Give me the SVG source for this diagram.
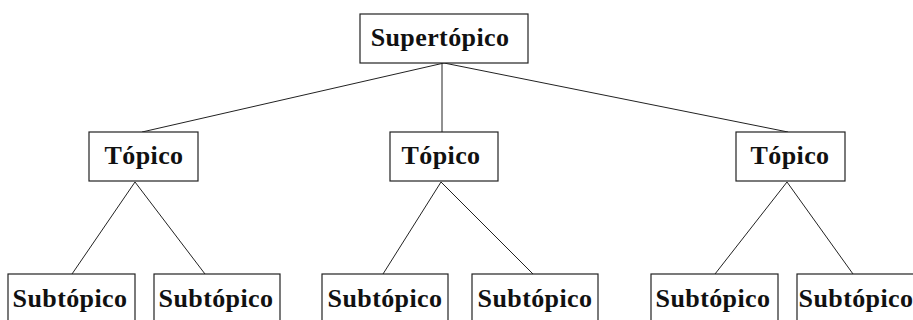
<svg xmlns="http://www.w3.org/2000/svg" width="913" height="320" viewBox="0 0 913 320">
<style>
.box{fill:#fff;stroke:#222;stroke-width:1.2}
.lbl{font-family:"Liberation Serif","Times New Roman",serif;font-weight:bold;font-size:26px;letter-spacing:0.4px;fill:#111;text-anchor:middle}
.edge{stroke:#222;stroke-width:1;fill:none}
</style>
<rect width="913" height="320" fill="#fff"/>
<g id="connectors">
<line class="edge" x1="444" y1="63" x2="142" y2="132"/>
<line class="edge" x1="442" y1="63" x2="442" y2="132"/>
<line class="edge" x1="444" y1="63" x2="788" y2="132"/>
<line class="edge" x1="135" y1="182" x2="72" y2="274"/>
<line class="edge" x1="135" y1="182" x2="205" y2="274"/>
<line class="edge" x1="441" y1="182" x2="383" y2="274"/>
<line class="edge" x1="441" y1="182" x2="533" y2="274"/>
<line class="edge" x1="787" y1="182" x2="715" y2="274"/>
<line class="edge" x1="787" y1="182" x2="853" y2="274"/>
</g>
<g id="supertopico">
<rect class="box" x="360" y="14" width="168" height="49"/>
<text class="lbl" x="440" y="46">Supertópico</text>
</g>
<g id="topico1">
<rect class="box" x="89" y="132" width="109" height="49"/>
<text class="lbl" x="144" y="164">Tópico</text>
</g>
<g id="topico2">
<rect class="box" x="390" y="132" width="108" height="49"/>
<text class="lbl" x="441" y="164">Tópico</text>
</g>
<g id="topico3">
<rect class="box" x="736" y="132" width="109" height="49"/>
<text class="lbl" x="790" y="164">Tópico</text>
</g>
<g id="subtopico1">
<rect class="box" x="8" y="274" width="127" height="60"/>
<text class="lbl" x="70" y="307">Subtópico</text>
</g>
<g id="subtopico2">
<rect class="box" x="154" y="274" width="126" height="60"/>
<text class="lbl" x="216" y="307">Subtópico</text>
</g>
<g id="subtopico3">
<rect class="box" x="322" y="274" width="126" height="60"/>
<text class="lbl" x="385" y="307">Subtópico</text>
</g>
<g id="subtopico4">
<rect class="box" x="472" y="274" width="126" height="60"/>
<text class="lbl" x="535" y="307">Subtópico</text>
</g>
<g id="subtopico5">
<rect class="box" x="651" y="274" width="127" height="60"/>
<text class="lbl" x="713" y="307">Subtópico</text>
</g>
<g id="subtopico6">
<rect class="box" x="797" y="274" width="126" height="60"/>
<text class="lbl" x="856" y="307">Subtópico</text>
</g>
</svg>
